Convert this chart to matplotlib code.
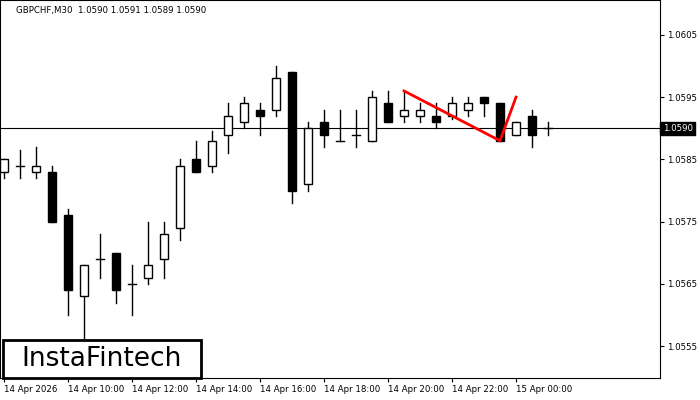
import matplotlib.pyplot as plt
from matplotlib.patches import Rectangle

opens  = [1.0583, 1.0584, 1.0583, 1.0583, 1.0576, 1.0563, 1.0569, 1.0570, 1.0565, 1.0566,
          1.0569, 1.0574, 1.0585, 1.0584, 1.0589, 1.0591, 1.0593, 1.0593, 1.0599, 1.0581,
          1.0591, 1.0588, 1.0589, 1.0588, 1.0594, 1.0592, 1.0592, 1.0592, 1.0592, 1.0593,
          1.0595, 1.0594, 1.0589, 1.0592, 1.0590]
highs  = [1.0585, 1.05865, 1.0587, 1.0584, 1.0577, 1.0568, 1.0573, 1.0570, 1.0568, 1.0575,
          1.0575, 1.0585, 1.0588, 1.05895, 1.0594, 1.0595, 1.0594, 1.0600, 1.0599, 1.0591,
          1.0593, 1.0593, 1.0593, 1.0596, 1.0596, 1.0596, 1.0594, 1.0594, 1.0595, 1.0595,
          1.0595, 1.0594, 1.0591, 1.0593, 1.0591]
lows   = [1.0582, 1.0582, 1.0582, 1.0575, 1.0560, 1.0555, 1.0566, 1.0562, 1.0560, 1.0565,
          1.0566, 1.0572, 1.0583, 1.0583, 1.0586, 1.0590, 1.0589, 1.0592, 1.0578, 1.0580,
          1.0587, 1.0588, 1.0587, 1.0588, 1.0591, 1.0591, 1.0591, 1.0590, 1.05915, 1.0592,
          1.0592, 1.0588, 1.0589, 1.0587, 1.0589]
closes = [1.0585, 1.0584, 1.0584, 1.0575, 1.0564, 1.0568, 1.0569, 1.0564, 1.0565, 1.0568,
          1.0573, 1.0584, 1.0583, 1.0588, 1.0592, 1.0594, 1.0592, 1.0598, 1.0580, 1.0590,
          1.0589, 1.0588, 1.0589, 1.0595, 1.0591, 1.0593, 1.0593, 1.0591, 1.0594, 1.0594,
          1.0594, 1.0588, 1.0591, 1.0589, 1.0590]

time_ticks = [0, 4, 8, 12, 16, 20, 24, 28, 32]
time_labels = ['14 Apr 2026', '14 Apr 10:00', '14 Apr 12:00', '14 Apr 14:00', '14 Apr 16:00',
               '14 Apr 18:00', '14 Apr 20:00', '14 Apr 22:00', '15 Apr 00:00']
price_ticks = [1.0555, 1.0565, 1.0575, 1.0585, 1.0595, 1.0605]
current_price = 1.0590

# pattern: candle index, price
pattern_x = [25, 31, 32]
pattern_y = [1.0596, 1.0588, 1.0595]

fig = plt.figure(figsize=(7, 4), dpi=100)
ax = fig.add_axes([0, 22/400, 660/700, 378/400])

w = 0.55
for i, (o, h, l, c) in enumerate(zip(opens, highs, lows, closes)):
    ax.plot([i, i], [l, h], color='black', lw=1, zorder=2)
    bottom = min(o, c)
    height = abs(c - o)
    if height < 0.00002:
        ax.plot([i - w/2, i + w/2], [o, o], color='black', lw=1, zorder=3)
    else:
        face = 'white' if c > o else 'black'
        ax.bar(i, height, bottom=bottom, width=w, facecolor=face, edgecolor='black', lw=1, zorder=3)

ax.axhline(current_price, color='black', lw=0.8, zorder=1)
ax.plot(pattern_x, pattern_y, color='red', lw=2, zorder=4)

ymin, ymax = 1.05499, 1.06106
ax.set_xlim(-0.25, 41)
ax.set_ylim(ymin, ymax)

ax.yaxis.tick_right()
ax.set_yticks(price_ticks)
ax.set_yticklabels([f'{p:.4f}' for p in price_ticks], fontsize=6.2)
ax.set_xticks(time_ticks)
ax.set_xticklabels(time_labels, fontsize=6.2, ha='left')
ax.tick_params(length=3, width=0.8, pad=2)

ax.text(1.004, (current_price - ymin) / (ymax - ymin), f'{current_price:.4f}',
        transform=ax.transAxes, fontsize=6.2, color='white', va='center', ha='left',
        bbox=dict(boxstyle='square,pad=0.25', fc='black', ec='black'))

ax.text(0.025, 0.985, 'GBPCHF,M30  1.0590 1.0591 1.0589 1.0590', transform=ax.transAxes,
        fontsize=6.2, va='top', ha='left')

fig.add_artist(Rectangle((3/700, 22/400), 198/700, 38/400, transform=fig.transFigure,
                         fc='white', ec='black', lw=2, zorder=10))
fig.text(102/700, 41/400, 'InstaFintech', fontsize=19, va='center', ha='center', zorder=11)

fig.savefig('out.png')
